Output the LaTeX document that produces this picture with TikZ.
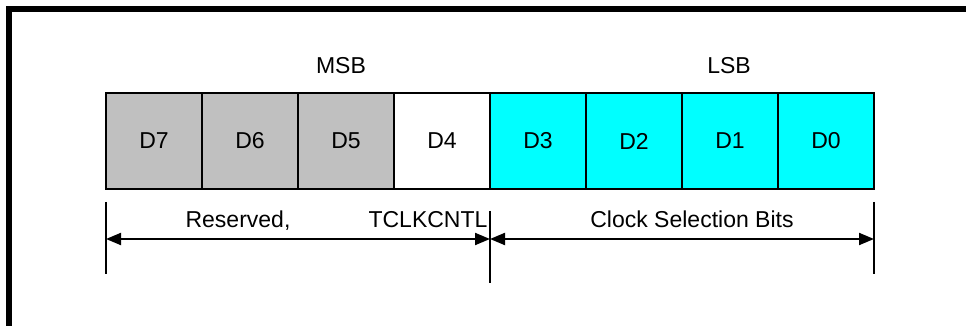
\documentclass[tikz,border=0pt]{standalone}
\usepackage{fontspec}
\setmainfont{Liberation Sans}
\usetikzlibrary{arrows.meta, positioning}
\definecolor{rsvc}{HTML}{C0C0C0}
\definecolor{selc}{HTML}{00FFFF}

\begin{document}
\begin{tikzpicture}[
    >={Triangle[length=7.5pt, width=6pt]},
    every node/.style={font=\fontsize{11.5}{13}\selectfont},
    bit/.style={draw, line width=1pt, minimum width=48pt, minimum height=48pt, inner sep=0pt},
    rsv/.style={bit, fill=rsvc},
    sel/.style={bit, fill=selc},
    lbl/.style={anchor=base},
    dim/.style={line width=1pt},
    x=0.5pt, y=-0.5pt]
  \useasboundingbox (0,0) rectangle (966,326);

  % outer frame (only top and left edges show)
  \draw[line width=3pt] (9,326) -- (9,9) -- (966,9);

  % register cells D7 .. D0
  \foreach \i in {7,6,5,4,3,2,1,0} {
    \ifnum\i>4 \node[rsv] (b\i) at ({154+96*(7-\i)},141) {D\i};
    \else\ifnum\i=4 \node[bit] (b\i) at ({154+96*(7-\i)},141) {D\i};
    \else \node[sel] (b\i) at ({154+96*(7-\i)},141) {D\i}; \fi\fi
  }

  \node[lbl] (msb) at (341,74) {MSB};
  \node[lbl] (lsb) at (729,74) {LSB};

  % extension lines under the cells
  \coordinate (e7a) at (106,202); \coordinate (e7b) at (106,274);
  \coordinate (e3a) at (490,211); \coordinate (e3b) at (490,283);
  \coordinate (e0a) at (874,202); \coordinate (e0b) at (874,274);
  \foreach \k in {7,3,0} {
    \draw[dim] (e\k a) -- (e\k b);
  }

  % dimension arrows
  \coordinate (d7) at (106,239);
  \coordinate (d3) at (490,239);
  \coordinate (d0) at (874,239);
  \draw[<->, dim] (d7) -- (d3);
  \draw[<->, dim] (d3) -- (d0);

  \node[lbl] (rsvd) at (238,228) {Reserved,};
  \node[lbl] (tclk) at (428,228) {TCLKCNTL};
  \node[lbl] (csel) at (692,228) {Clock Selection Bits};
\end{tikzpicture}
\end{document}
